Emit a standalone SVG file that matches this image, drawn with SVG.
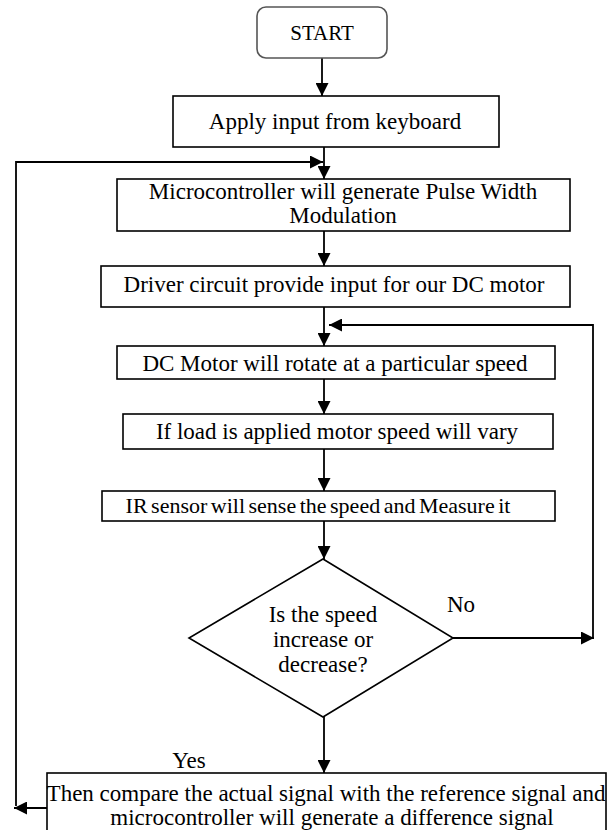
<svg xmlns="http://www.w3.org/2000/svg" width="609" height="830" viewBox="0 0 609 830" font-family="'Liberation Serif', 'Times New Roman', Times, serif">
<style>
.box{fill:#fff;stroke:#000;stroke-width:1.6}
.start{fill:#fff;stroke:#555;stroke-width:1.6}
.t{font-family:'Liberation Serif','Times New Roman',Times,serif;font-size:23px;fill:#000;text-anchor:middle}
.c{fill:none;stroke:#000;stroke-width:1.8}
</style>
<defs>
<marker id="ah" markerWidth="13" markerHeight="13" viewBox="0 0 12 12" refX="12" refY="6" orient="auto" markerUnits="userSpaceOnUse">
<path d="M0,0 L12,6 L0,12 z" fill="#000"/>
</marker>
</defs>
<rect width="609" height="830" fill="#fff"/>
<g id="connectors">
<line class="c" x1="322" y1="58" x2="322" y2="96" marker-end="url(#ah)"/>
<line class="c" x1="324" y1="147" x2="324" y2="179" marker-end="url(#ah)"/>
<polyline class="c" points="16,806 16,162 323,162" marker-end="url(#ah)"/>
<line class="c" x1="324" y1="231" x2="324" y2="266" marker-end="url(#ah)"/>
<line class="c" x1="324" y1="307" x2="324" y2="346" marker-end="url(#ah)"/>
<polyline class="c" points="593,638 593,325 329,325" marker-end="url(#ah)"/>
<line class="c" x1="324" y1="379" x2="324" y2="414" marker-end="url(#ah)"/>
<line class="c" x1="324" y1="449" x2="324" y2="491" marker-end="url(#ah)"/>
<line class="c" x1="324" y1="521" x2="324" y2="559" marker-end="url(#ah)"/>
<line class="c" x1="453" y1="638" x2="594" y2="638" marker-end="url(#ah)"/>
<line class="c" x1="324" y1="717" x2="324" y2="773" marker-end="url(#ah)"/>
<line class="c" x1="47" y1="808" x2="14" y2="808" marker-end="url(#ah)"/>
<text class="t" x="461" y="612">No</text>
<text class="t" x="189" y="768">Yes</text>
</g>
<g id="start">
<rect class="start" x="257" y="7" width="130" height="51" rx="9"/>
<text class="t" x="322" y="40" style="font-size:21px">START</text>
</g>
<g id="apply">
<rect class="box" x="173" y="96" width="326" height="51"/>
<text class="t" x="335" y="129">Apply input from keyboard</text>
</g>
<g id="micro">
<rect class="box" x="117" y="179" width="453" height="52"/>
<text class="t" x="343" y="199">Microcontroller will generate Pulse Width</text>
<text class="t" x="343" y="223">Modulation</text>
</g>
<g id="driver">
<rect class="box" x="101" y="266" width="469" height="41"/>
<text class="t" x="334" y="292">Driver circuit provide input for our DC motor</text>
</g>
<g id="dcmotor">
<rect class="box" x="117" y="346" width="438" height="33"/>
<text class="t" x="335" y="371">DC Motor will rotate at a particular speed</text>
</g>
<g id="load">
<rect class="box" x="123" y="414" width="430" height="35"/>
<text class="t" x="337" y="439">If load is applied motor speed will vary</text>
</g>
<g id="ir">
<rect class="box" x="102" y="491" width="453" height="30"/>
<text class="t" x="318" y="513" style="font-size:22px;word-spacing:-2px">IR sensor will sense the speed and Measure it</text>
</g>
<g id="decision">
<polygon class="box" points="323,559 453,638 323,717 189,638"/>
<text class="t" x="323" y="622">Is the speed</text>
<text class="t" x="323" y="647">increase or</text>
<text class="t" x="323" y="672">decrease?</text>
</g>
<g id="compare">
<rect class="box" x="47" y="773" width="559" height="70"/>
<text class="t" x="326" y="801">Then compare the actual signal with the reference signal and</text>
<text class="t" x="332" y="825">microcontroller will generate a difference signal</text>
</g>
</svg>
